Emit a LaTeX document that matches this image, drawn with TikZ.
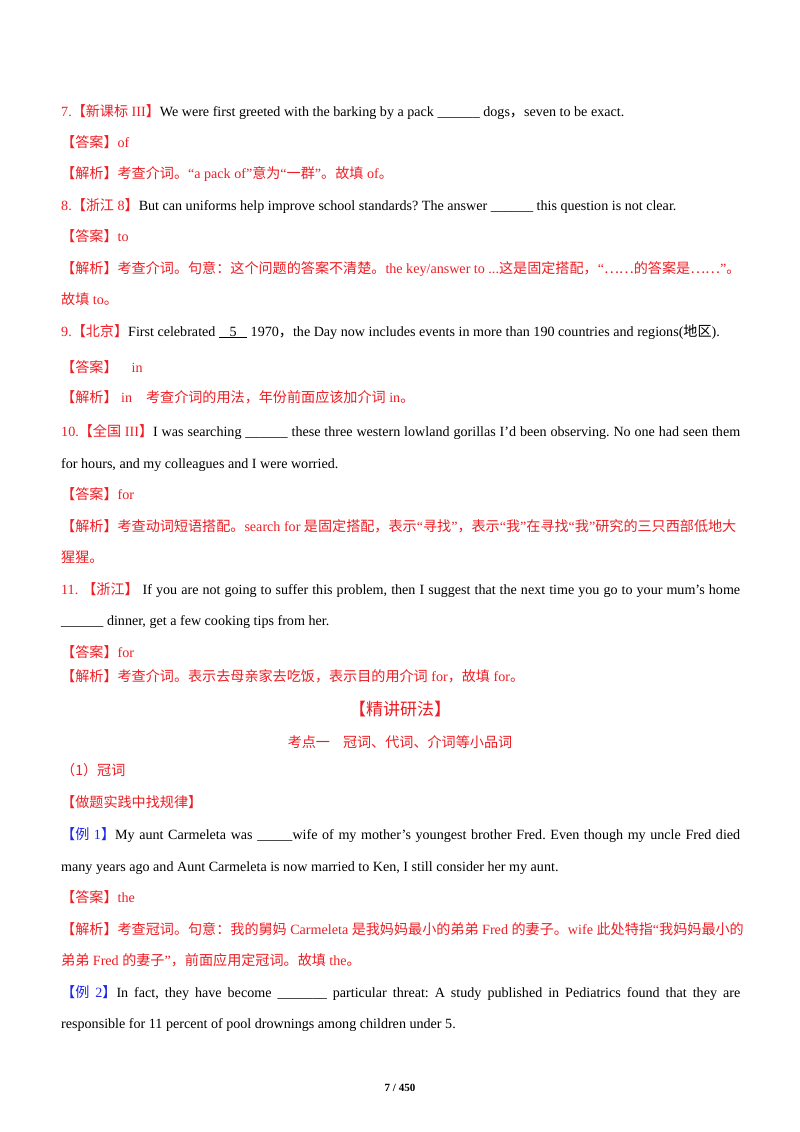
\documentclass[tikz,border=0pt]{standalone}
\usepackage{fontspec}
\setmainfont{Liberation Serif}
\newfontfamily\zhf{Noto Sans CJK SC}
\newcommand{\zh}[1]{{\zhf #1}}
\definecolor{rd}{RGB}{238,30,36}
\definecolor{bl}{RGB}{30,40,230}
\frenchspacing
\begin{document}
\begin{tikzpicture}[x=1pt,y=-1pt,
  ln/.style={anchor=base west,inner sep=0pt,font=\fontsize{14.1}{16}\selectfont},
  r/.style={ln,text=rd}]
\useasboundingbox[fill=white] (0,0) rectangle (800,1132);
\newcommand{\R}[1]{\textcolor{rd}{#1}}
\newcommand{\J}[1]{\makebox[679pt][s]{#1}}
\node[ln] (l1) at (61,116) {\R{7.\zh{【新课标} III\zh{】}}We were first greeted with the barking by a pack \_\_\_\_\_\_ dogs\zh{，}seven to be exact.};
\node[r] (l2) at (61,147) {\zh{【答案】}of};
\node[r] (l3) at (61,178) {\zh{【解析】考查介词。}“a pack of”\zh{意为}“\zh{一群}”\zh{。故填} of\zh{。}};
\node[ln] (l4) at (61,210) {\R{8.\zh{【浙江} 8\zh{】}}But can uniforms help improve school standards? The answer \_\_\_\_\_\_ this question is not clear.};
\node[r] (l5) at (61,241) {\zh{【答案】}to};
\node[r] (l6) at (61,273) {\zh{【解析】考查介词。句意：这个问题的答案不清楚。}the key/answer to ...\zh{这是固定搭配，}“\zh{……的答案是……}”\zh{。}};
\node[r] (l7) at (61,304) {\zh{故填} to\zh{。}};
\node[ln] (l8) at (61,336) {\R{9.\zh{【北京】}}First celebrated \underline{\ \ \ 5\ \ \ }\ 1970\zh{，}the Day now includes events in more than 190 countries and regions(\zh{地区}).};
\node[r] (l9) at (61,372) {\zh{【答案】}\hspace{14pt}in};
\node[r] (l10) at (61,402) {\zh{【解析】} in\hspace{14pt}\zh{考查介词的用法，年份前面应该加介词} in\zh{。}};
\node[ln] (l11) at (61,436) {\J{\R{10.\zh{【全国} III\zh{】}}I was searching \_\_\_\_\_\_ these three western lowland gorillas I'd been observing. No one had seen them}};
\node[ln] (l12) at (61,468) {for hours, and my colleagues and I were worried.};
\node[r] (l13) at (61,499) {\zh{【答案】}for};
\node[r] (l14) at (61,531) {\zh{【解析】考查动词短语搭配。}search for \zh{是固定搭配，表示}“\zh{寻找}”\zh{，表示}“\zh{我}”\zh{在寻找}“\zh{我}”\zh{研究的三只西部低地大}};
\node[r] (l15) at (61,562) {\zh{猩猩。}};
\node[ln] (l16) at (61,594) {\J{\R{11. \zh{【浙江】}} If you are not going to suffer this problem, then I suggest that the next time you go to your mum’s home}};
\node[ln] (l17) at (61,625) {\_\_\_\_\_\_ dinner, get a few cooking tips from her.};
\node[r] (l18) at (61,657) {\zh{【答案】}for};
\node[r] (l19) at (61,681) {\zh{【解析】考查介词。表示去母亲家去吃饭，表示目的用介词} for\zh{，故填} for\zh{。}};
\node[anchor=base,inner sep=0pt,text=rd,font=\fontsize{17}{19}\selectfont] (t1) at (400,715) {\zh{【精讲研法】}};
\node[anchor=base,inner sep=0pt,text=rd,font=\fontsize{14.1}{16}\selectfont] (t2) at (400,747) {\zh{考点一\hspace{13pt}冠词、代词、介词等小品词}};
\node[r] (l20) at (61,775) {\zh{（1）冠词}};
\node[r] (l21) at (61,807) {\zh{【做题实践中找规律】}};
\node[ln] (l22) at (61,839) {\J{\textcolor{bl}{\zh{【例} 1\zh{】}}My aunt Carmeleta was \_\_\_\_\_wife of my mother’s youngest brother Fred. Even though my uncle Fred died}};
\node[ln] (l23) at (61,871) {many years ago and Aunt Carmeleta is now married to Ken, I still consider her my aunt.};
\node[r] (l24) at (61,902) {\zh{【答案】}the};
\node[r] (l25) at (61,934) {\zh{【解析】考查冠词。句意：我的舅妈} Carmeleta \zh{是我妈妈最小的弟弟} Fred \zh{的妻子。}wife \zh{此处特指}“\zh{我妈妈最小的}};
\node[r] (l26) at (61,965) {\zh{弟弟} Fred \zh{的妻子}”\zh{，前面应用定冠词。故填} the\zh{。}};
\node[ln] (l27) at (61,997) {\J{\textcolor{bl}{\zh{【例} 2\zh{】}}In fact, they have become \_\_\_\_\_\_\_ particular threat: A study published in Pediatrics found that they are}};
\node[ln] (l28) at (61,1028) {responsible for 11 percent of pool drownings among children under 5.};
\node[anchor=base,inner sep=0pt,font=\bfseries\fontsize{11}{13}\selectfont] (pg) at (400,1091) {7 / 450};
\end{tikzpicture}
\end{document}
